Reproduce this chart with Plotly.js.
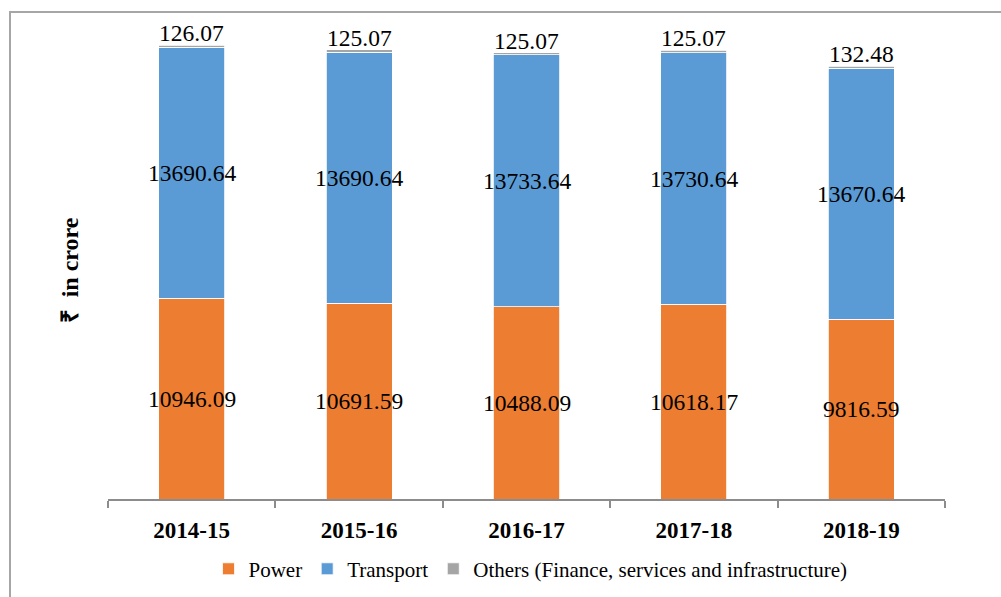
<!DOCTYPE html>
<html>
<head>
<meta charset="utf-8">
<script src="https://cdn.plot.ly/plotly-3.0.1.min.js"></script>
<style>
  html, body { margin: 0; padding: 0; background: #fff; }
  #wrap { position: relative; width: 1001px; height: 597px; overflow: hidden; }
  #frame { position: absolute; left: 9px; top: 11px; width: 1100px; height: 700px;
           border-left: 2px solid #a6a6a6; border-top: 2px solid #a6a6a6; box-sizing: border-box; pointer-events: none; }
  #chart { position: absolute; left: 0; top: 0; width: 1001px; height: 597px; }
</style>
</head>
<body>
<div id="wrap">
  <div id="chart"></div>
  <div id="frame"></div>
</div>
<script>
const years = ["2014-15", "2015-16", "2016-17", "2017-18", "2018-19"];
const power = [10946.09, 10691.59, 10488.09, 10618.17, 9816.59];
const transport = [13690.64, 13690.64, 13733.64, 13730.64, 13670.64];
const others = [126.07, 125.07, 125.07, 125.07, 132.48];
const seriesNames = ["Power", "Transport", "Others (Finance, services and infrastructure)"];
const colors = ["#ED7D31", "#5B9BD5", "#A5A5A5"];

const SERIF = "Liberation Serif";
const fmt = v => v.toFixed(2);
const labelFont = { family: SERIF, size: 23.5, color: "#000" };

const traces = [power, transport, others].map((vals, i) => ({
  type: "bar",
  x: years,
  y: vals,
  name: seriesNames[i],
  marker: { color: colors[i], line: { color: "#ffffff", width: 0.8 } },
  width: 0.395,
  hoverinfo: "x+y+name"
}));

const annotations = [];
years.forEach((yr, k) => {
  annotations.push({ x: yr, y: power[k] / 2, xref: "x", yref: "y", text: fmt(power[k]),
    showarrow: false, font: labelFont });
  annotations.push({ x: yr, y: power[k] + transport[k] / 2, xref: "x", yref: "y", text: fmt(transport[k]),
    showarrow: false, font: labelFont });
  annotations.push({ x: yr, y: power[k] + transport[k] + others[k], xref: "x", yref: "y", text: fmt(others[k]),
    showarrow: false, yanchor: "bottom", yshift: -3, font: labelFont });
});
annotations.push({
  xref: "paper", yref: "paper", x: -0.045, y: 0.478, xanchor: "center", yanchor: "middle",
  text: "<b>₹  in crore</b>", textangle: -90, showarrow: false,
  font: { family: SERIF, size: 24, color: "#000" }
});

const layout = {
  width: 1001, height: 597,
  margin: { l: 108, r: 56, t: 20, b: 98 },
  paper_bgcolor: "rgba(0,0,0,0)", plot_bgcolor: "rgba(0,0,0,0)",
  barmode: "stack",
  showlegend: true,
  legend: {
    orientation: "h", x: 0.53, xanchor: "center", xref: "container",
    y: 0.081, yanchor: "top", yref: "container",
    font: { family: SERIF, size: 21, color: "#000" },
    itemwidth: 30, tracegroupgap: 0, traceorder: "normal"
  },
  xaxis: {
    type: "category",
    showline: true, linecolor: "#8c8c8c", linewidth: 2,
    ticks: "outside", tickson: "boundaries", ticklen: 7, tickcolor: "#8c8c8c", tickwidth: 2,
    ticklabelstandoff: 9,
    tickfont: { family: SERIF, size: 23, color: "#000", weight: "bold" },
    showgrid: false, zeroline: false, fixedrange: true, automargin: false
  },
  yaxis: {
    range: [0, 26130],
    showticklabels: false, showgrid: false, zeroline: false, showline: false, ticks: "",
    fixedrange: true, automargin: false
  },
  annotations: annotations
};

Plotly.newPlot("chart", traces, layout, { displayModeBar: false, staticPlot: true });
</script>
</body>
</html>
